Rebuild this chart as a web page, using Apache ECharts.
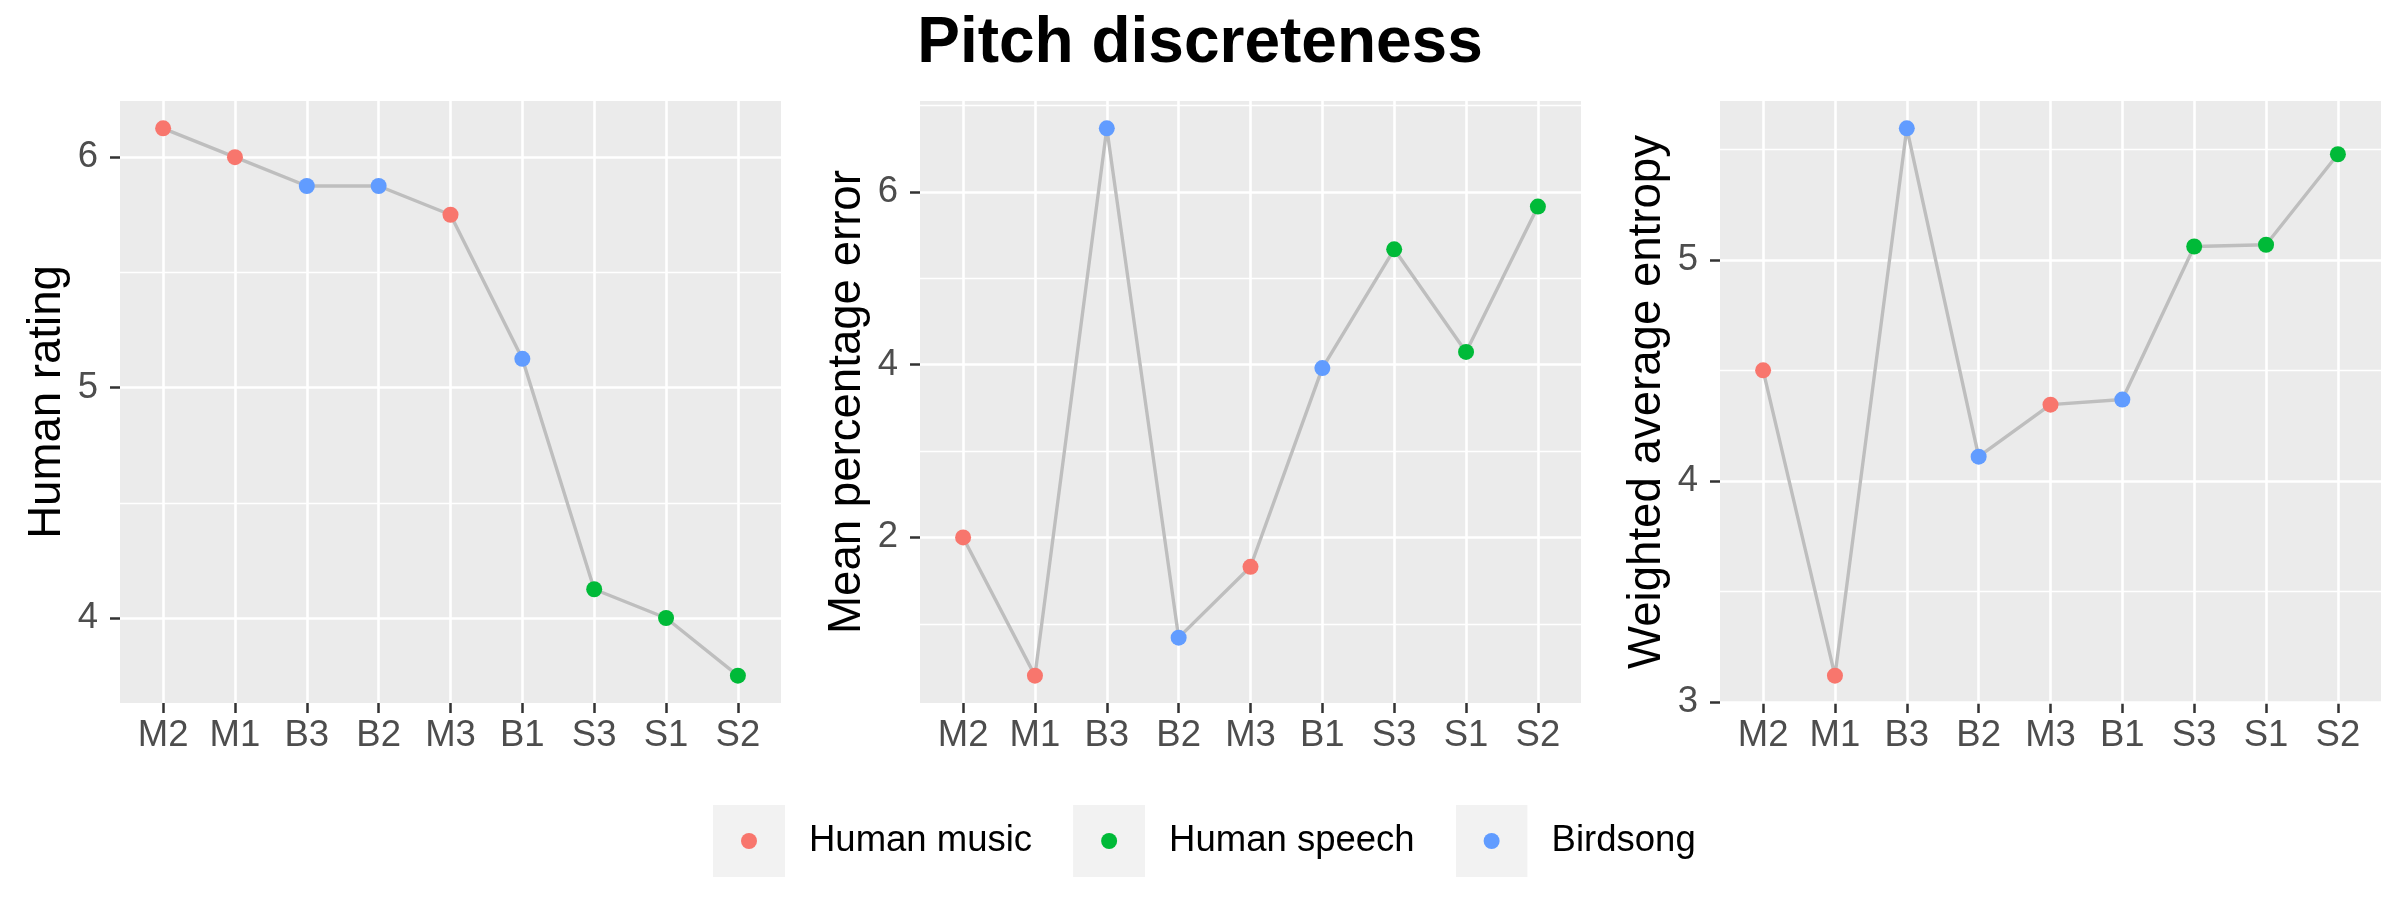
<!DOCTYPE html>
<html>
<head>
<meta charset="utf-8">
<script src="https://cdn.jsdelivr.net/npm/echarts@6/dist/echarts.min.js"></script>
<style>
html, body { margin: 0; padding: 0; background: #fff; }
#chart { width: 2400px; height: 900px; }
</style>
</head>
<body>
<div id="chart"></div>
<script>
// stimuli, in the order they are plotted
var categories = ['M2', 'M1', 'B3', 'B2', 'M3', 'B1', 'S3', 'S1', 'S2'];
var groups = ['Human music', 'Human music', 'Birdsong', 'Birdsong', 'Human music', 'Birdsong', 'Human speech', 'Human speech', 'Human speech'];
var groupNames = ['Human music', 'Human speech', 'Birdsong'];
var groupColors = ['#F8766D', '#00BA38', '#619CFF'];

var humanRating = [6.125, 6.0, 5.875, 5.875, 5.75, 5.125, 4.125, 4.0, 3.75];
var meanPctError = [2.0, 0.40, 6.735, 0.84, 1.66, 3.96, 5.335, 4.147, 5.83];
var weightedEntropy = [4.50, 3.12, 5.594, 4.11, 4.345, 4.368, 5.06, 5.068, 5.477];

var ratingTicks = [4, 5, 6];
var ratingMinor = [4.5, 5.5];
var errorTicks = [2, 4, 6];
var errorMinor = [1, 3, 5, 7];
var entropyTicks = [3, 4, 5];
var entropyMinor = [3.5, 4.5, 5.5];

var panels = [
	{name: 'Human rating', values: humanRating, ticks: ratingTicks, minor: ratingMinor},
	{name: 'Mean percentage error', values: meanPctError, ticks: errorTicks, minor: errorMinor},
	{name: 'Weighted average entropy', values: weightedEntropy, ticks: entropyTicks, minor: entropyMinor}
];

var FONT = 'Liberation Sans';
var xPos = categories.map(function(c, i) { return i + 1; });

function legendIcon(color) {
	var svg = '<svg xmlns="http://www.w3.org/2000/svg" width="72" height="72">' +
		'<rect width="72" height="72" fill="#F2F2F2"/>' +
		'<circle cx="36" cy="36" r="8" fill="' + color + '"/></svg>';
	return 'image://data:image/svg+xml;charset=utf-8,' + encodeURIComponent(svg);
}

var grids = [], xAxes = [], yAxes = [], series = [];

panels.forEach(function(p, k) {
	var lo = Math.min.apply(null, p.values), hi = Math.max.apply(null, p.values);
	var pad = (hi - lo) * 0.05; // ggplot default expansion

	grids.push({
		left: 120 + 800 * k, top: 101, width: 661, height: 602,
		show: true, backgroundColor: '#EBEBEB', borderWidth: 0
	});
	xAxes.push({
		type: 'value', gridIndex: k, min: 0.4, max: 9.6,
		axisLine: {show: false},
		splitLine: {show: false},
		axisTick: {show: true, customValues: xPos, length: 10, lineStyle: {color: '#333333', width: 2.5}},
		axisLabel: {
			customValues: xPos, margin: 14,
			fontFamily: FONT, fontSize: 36.5, color: '#4D4D4D',
			formatter: function(v) { return categories[Math.round(v) - 1]; }
		}
	});
	yAxes.push({
		type: 'value', gridIndex: k, min: lo - pad, max: hi + pad,
		name: p.name, nameLocation: 'middle', nameGap: 50,
		nameTextStyle: {fontFamily: FONT, fontSize: 45.6, color: '#000'},
		axisLine: {show: false},
		splitLine: {show: false},
		axisTick: {show: true, customValues: p.ticks, length: 10, lineStyle: {color: '#333333', width: 2.5}},
		axisLabel: {customValues: p.ticks, margin: 22, fontFamily: FONT, fontSize: 36.5, color: '#4D4D4D'}
	});

	// panel grid lines, drawn under the data
	var lines = [];
	p.minor.forEach(function(v) { lines.push({yAxis: v, lineStyle: {width: 1.3}}); });
	p.ticks.forEach(function(v) { lines.push({yAxis: v, lineStyle: {width: 2.6}}); });
	xPos.forEach(function(v) { lines.push({xAxis: v, lineStyle: {width: 2.6}}); });
	series.push({
		type: 'line', xAxisIndex: k, yAxisIndex: k, data: [], z: 1, silent: true,
		markLine: {
			silent: true, symbol: 'none', animation: false, z: 1,
			label: {show: false},
			lineStyle: {color: '#FFFFFF', type: 'solid'},
			data: lines
		}
	});

	series.push({
		type: 'line', xAxisIndex: k, yAxisIndex: k, z: 2, silent: true,
		symbol: 'none',
		lineStyle: {color: '#BEBEBE', width: 3.4},
		data: p.values.map(function(v, i) { return [xPos[i], v]; })
	});

	groupNames.forEach(function(g, gi) {
		var pts = [];
		p.values.forEach(function(v, i) { if (groups[i] === g) pts.push([xPos[i], v]); });
		series.push({
			name: g, type: 'scatter', xAxisIndex: k, yAxisIndex: k, z: 3,
			symbol: 'circle', symbolSize: 16,
			itemStyle: {color: groupColors[gi], opacity: 1},
			data: pts
		});
	});
});

var chart = echarts.init(document.getElementById('chart'), null, {renderer: 'canvas'});
chart.setOption({
	backgroundColor: '#FFFFFF',
	animation: false,
	title: {
		text: 'Pitch discreteness', left: 'center', top: 12, padding: 0,
		textStyle: {fontFamily: FONT, fontWeight: 'bold', fontSize: 64, color: '#000'}
	},
	legend: {
		left: 713, top: 805, padding: 0,
		itemWidth: 72, itemHeight: 72, itemGap: 41,
		textStyle: {fontFamily: FONT, fontSize: 36.5, color: '#000', padding: [0, 0, 0, 19]},
		data: groupNames.map(function(g, gi) { return {name: g, icon: legendIcon(groupColors[gi])}; })
	},
	grid: grids,
	xAxis: xAxes,
	yAxis: yAxes,
	series: series
});
</script>
</body>
</html>
